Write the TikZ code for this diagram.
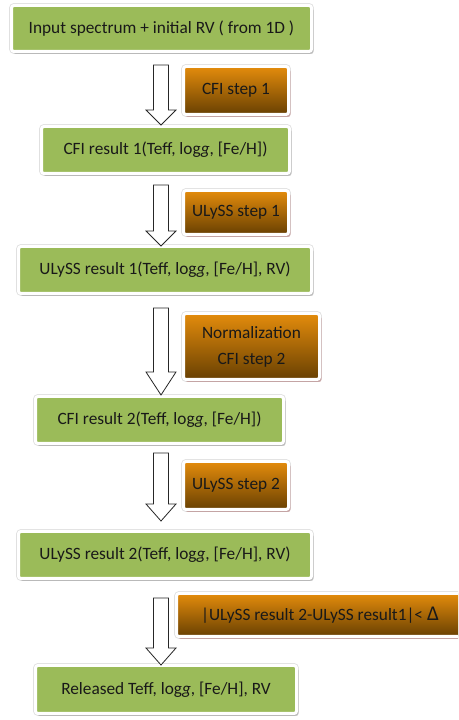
\documentclass[tikz,border=0pt]{standalone}
\usepackage{fontspec}
\setmainfont{Carlito}
\usetikzlibrary{shadows}
\definecolor{boxgreen}{RGB}{155,187,89}
\definecolor{orTop}{RGB}{228,140,12}
\definecolor{orBot}{RGB}{104,64,2}
\definecolor{pinkshadow}{RGB}{190,150,150}
\tikzset{
  greenbox/.style={rectangle, rounded corners=2.5pt, fill=boxgreen, draw=white,
    line width=3pt, inner sep=0pt, text=black!90,
    preaction={draw=black!12, line width=4.6pt},
    font=\fontsize{17.3}{20}\selectfont,
    drop shadow={shadow xshift=2pt, shadow yshift=-2.5pt, fill=black!40, opacity=0.55}},
  orbox/.style={rectangle, rounded corners=2.5pt, top color=orTop, bottom color=orBot,
    draw=white, line width=3pt, inner sep=0pt, align=center, text=black!90,
    preaction={draw=black!12, line width=4.6pt},
    font=\fontsize{17.3}{26}\selectfont,
    drop shadow={shadow xshift=2pt, shadow yshift=-2.5pt, fill=pinkshadow, opacity=0.8}},
  blockarrow/.style={draw=black!85, fill=white, line width=0.8pt, line join=miter}
}
\newcommand{\blockarr}[4]{%
  \coordinate (#1t) at (161,#2);
  \draw[blockarrow] (#1t) ++(-7.5,0) -- (153.5,#3) -- (146,#3) -- (161,#4) coordinate (#1h)
    -- (176,#3) -- (168.5,#3) -- (168.5,#2) -- cycle;}
\begin{document}
\begin{tikzpicture}[x=1pt,y=1pt]
\useasboundingbox (0,0) rectangle (458,720);
\clip (0,0) rectangle (458,720);
\fill[white] (0,0) rectangle (458,720);

\node[greenbox, minimum width=300, minimum height=46] (b1) at (161.5,691.5) {Input spectrum + initial RV ( from 1D )};
\node[greenbox, minimum width=248, minimum height=47] (b2) at (165.5,570) {CFI result 1(Teff, log\textit{g}, [Fe/H])};
\node[greenbox, minimum width=293, minimum height=47] (b3) at (165,450) {ULySS result 1(Teff, log\textit{g}, [Fe/H], RV)};
\node[greenbox, minimum width=248, minimum height=47] (b4) at (159.5,300) {CFI result 2(Teff, log\textit{g}, [Fe/H])};
\node[greenbox, minimum width=293, minimum height=47] (b5) at (165,165) {ULySS result 2(Teff, log\textit{g}, [Fe/H], RV)};
\node[greenbox, minimum width=261, minimum height=48] (b6) at (166,30.5) {Released Teff, log\textit{g}, [Fe/H], RV};

\node[orbox, minimum width=105, minimum height=48] (o1) at (236,629.5) {CFI step 1};
\node[orbox, minimum width=105, minimum height=44] (o2) at (236,507.5) {ULySS step 1};
\node[orbox, minimum width=136, minimum height=66] (o3) at (251.5,373.5) {Normalization\\CFI step 2};
\node[orbox, minimum width=105, minimum height=48] (o4) at (236,234.5) {ULySS step 2};
\node[orbox, minimum width=287, minimum height=43] (o5) at (320,105) {|ULySS result 2-ULySS result1|< {\fontsize{21}{26}\selectfont Δ}};

\blockarr{a1}{655}{610}{595}
\blockarr{a2}{535}{489}{474}
\blockarr{a3}{412}{348}{325}
\blockarr{a4}{267}{216}{199}
\blockarr{a5}{122}{72}{55}
\end{tikzpicture}
\end{document}
